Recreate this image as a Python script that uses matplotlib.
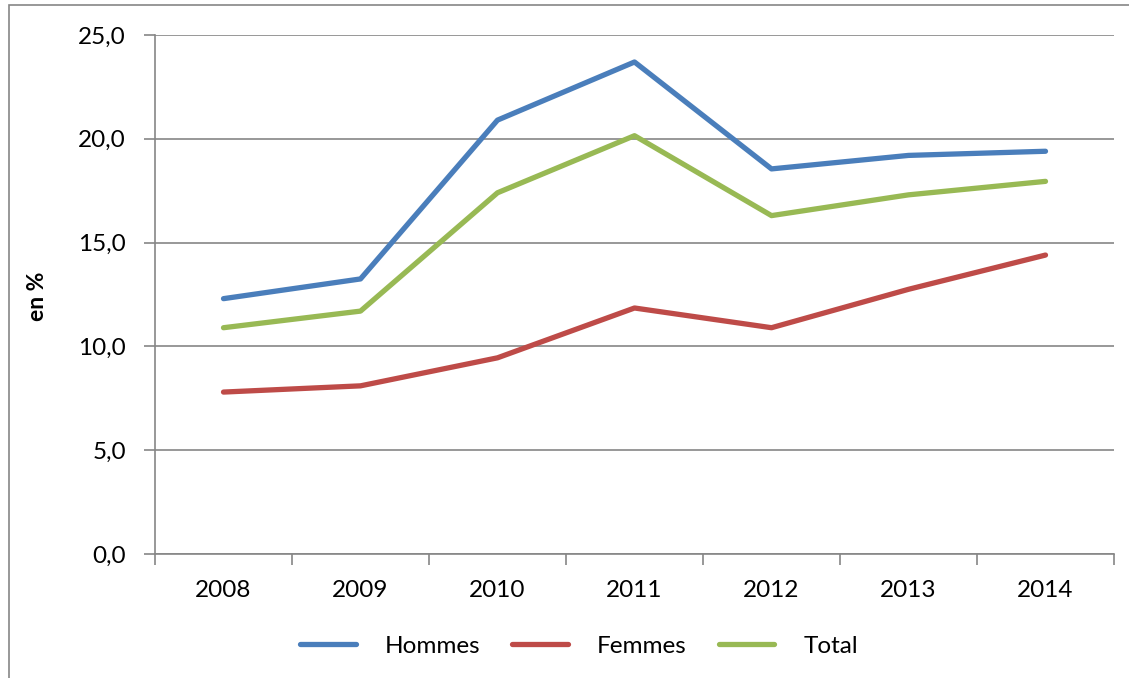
import matplotlib
matplotlib.use("Agg")
import matplotlib.pyplot as plt
from matplotlib.patches import Rectangle
from matplotlib.ticker import FixedLocator, FuncFormatter

years = ["2008", "2009", "2010", "2011", "2012", "2013", "2014"]
hommes = [12.3, 13.25, 20.9, 23.7, 18.55, 19.2, 19.4]
femmes = [7.8, 8.1, 9.45, 11.85, 10.9, 12.75, 14.4]
total = [10.9, 11.7, 17.4, 20.15, 16.3, 17.3, 17.95]
series_names = ["Hommes", "Femmes", "Total"]
colors = ["#4A7EBB", "#BE4B48", "#98B954"]

plt.rcParams['font.family'] = ['Lato', 'DejaVu Sans']

W, H = 1129, 678
fig = plt.figure(figsize=(W / 100, H / 100), dpi=100)
fig.patches.append(Rectangle((9 / W, -0.1), 1.2, 1 - 5 / H + 0.1,
                             transform=fig.transFigure, fill=False,
                             edgecolor="#868686", linewidth=1.2))

ax = fig.add_axes([155 / W, 1 - 554 / H, (1114 - 155) / W, (554 - 35) / H])
grey = "#868686"
x = list(range(len(years)))
for vals, name, c in zip([hommes, femmes, total], series_names, colors):
    ax.plot(x, vals, color=c, linewidth=3.8, solid_capstyle="round",
            solid_joinstyle="round", label=name)

ax.set_xlim(-0.5, len(years) - 0.5)
ax.set_ylim(0, 25)
ax.set_yticks([0, 5, 10, 15, 20, 25])
ax.yaxis.set_major_formatter(FuncFormatter(lambda v, p: f"{v:.1f}".replace(".", ",")))
ax.set_xticks(x)
ax.set_xticklabels(years)
ax.xaxis.set_minor_locator(FixedLocator([i - 0.5 for i in range(len(years) + 1)]))
ax.tick_params(axis="x", which="major", length=0, pad=19, labelsize=17.5)
ax.tick_params(axis="x", which="minor", length=8, width=1.2, color=grey)
ax.tick_params(axis="y", length=8, width=1.2, color=grey, pad=13, labelsize=17.5)
ax.grid(axis="y", color=grey, linewidth=1.2)
ax.set_axisbelow(True)
for s in ["top", "right"]:
    ax.spines[s].set_visible(False)
for s in ["left", "bottom"]:
    ax.spines[s].set_color(grey)
    ax.spines[s].set_linewidth(1.2)

fig.text(37 / W, 1 - 296 / H, "en %", rotation=90, ha="center", va="center",
         fontsize=16.5, fontweight="bold")

fig.legend(loc="center", bbox_to_anchor=(579 / W, 1 - 646 / H), ncol=3,
           frameon=False, fontsize=17.5, handlelength=2.3, handletextpad=1.2,
           columnspacing=1.3)

fig.savefig("out.png", dpi=100)
